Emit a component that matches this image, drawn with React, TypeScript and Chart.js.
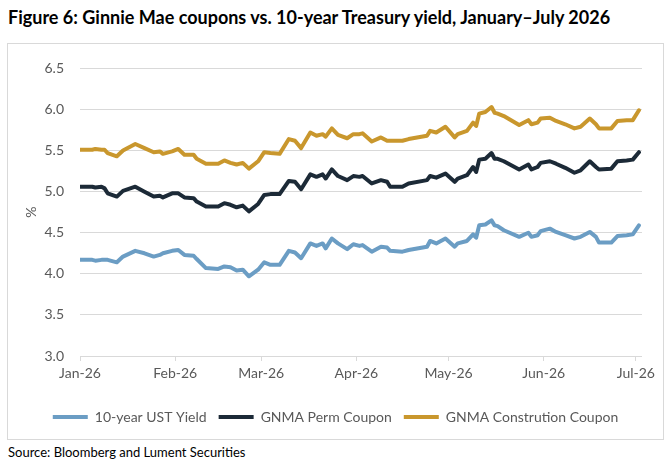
import React, { useEffect, useRef } from 'react';
import { Chart, registerables } from 'chart.js';

Chart.register(...registerables);

// Day offsets from 1 Jan 2026
const DAYS = [0, 4, 5, 7, 8, 9, 12, 14, 18, 21, 24, 26, 27, 30, 32, 34, 37, 38, 41, 45, 47, 49, 51, 53, 55, 58, 60, 62, 65, 68, 70, 72, 75, 77, 79, 80, 82, 84, 87, 89, 91, 92, 95, 98, 100, 101, 105, 107, 113, 114, 116, 119, 122, 123, 126, 128, 129, 130, 132, 134, 135, 136, 138, 143, 146, 147, 149, 150, 153, 155, 158, 161, 163, 166, 168, 169, 173, 175, 178, 180, 182];

const UST_YIELD = [4.17, 4.17, 4.16, 4.17, 4.17, 4.17, 4.14, 4.21, 4.28, 4.25, 4.21, 4.23, 4.25, 4.28, 4.29, 4.23, 4.22, 4.18, 4.07, 4.06, 4.09, 4.08, 4.04, 4.05, 3.97, 4.05, 4.14, 4.11, 4.11, 4.28, 4.26, 4.19, 4.37, 4.34, 4.37, 4.31, 4.43, 4.37, 4.30, 4.36, 4.34, 4.35, 4.27, 4.33, 4.32, 4.28, 4.27, 4.29, 4.33, 4.40, 4.37, 4.43, 4.33, 4.37, 4.40, 4.48, 4.44, 4.59, 4.60, 4.65, 4.59, 4.58, 4.53, 4.45, 4.50, 4.45, 4.47, 4.52, 4.55, 4.51, 4.47, 4.43, 4.45, 4.51, 4.45, 4.38, 4.38, 4.46, 4.47, 4.48, 4.59];

const PERM_COUPON = [5.06, 5.06, 5.05, 5.06, 5.04, 4.98, 4.94, 5.01, 5.06, 5.00, 4.94, 4.95, 4.93, 4.98, 4.98, 4.93, 4.92, 4.88, 4.82, 4.82, 4.86, 4.84, 4.81, 4.83, 4.76, 4.85, 4.96, 4.97, 4.97, 5.13, 5.12, 5.03, 5.21, 5.18, 5.21, 5.16, 5.27, 5.19, 5.14, 5.19, 5.18, 5.19, 5.10, 5.14, 5.12, 5.06, 5.06, 5.10, 5.14, 5.19, 5.17, 5.22, 5.12, 5.16, 5.20, 5.30, 5.24, 5.39, 5.40, 5.47, 5.40, 5.40, 5.37, 5.27, 5.33, 5.27, 5.30, 5.35, 5.37, 5.34, 5.29, 5.23, 5.26, 5.37, 5.30, 5.27, 5.28, 5.37, 5.38, 5.39, 5.48];

const CONSTRUCTION_COUPON = [5.51, 5.51, 5.52, 5.51, 5.51, 5.47, 5.43, 5.50, 5.58, 5.53, 5.48, 5.49, 5.46, 5.49, 5.52, 5.45, 5.45, 5.40, 5.34, 5.34, 5.38, 5.35, 5.33, 5.35, 5.28, 5.37, 5.48, 5.47, 5.46, 5.64, 5.62, 5.53, 5.72, 5.68, 5.70, 5.67, 5.77, 5.69, 5.65, 5.70, 5.70, 5.71, 5.61, 5.66, 5.62, 5.62, 5.62, 5.64, 5.68, 5.74, 5.72, 5.79, 5.66, 5.70, 5.74, 5.84, 5.80, 5.95, 5.97, 6.03, 5.96, 5.95, 5.92, 5.81, 5.87, 5.82, 5.84, 5.89, 5.90, 5.86, 5.82, 5.77, 5.79, 5.89, 5.82, 5.77, 5.77, 5.86, 5.87, 5.87, 5.99];

const MONTH_DAYS = [0, 31, 59, 90, 120, 151, 181];
const MONTH_LABELS = ['Jan-26', 'Feb-26', 'Mar-26', 'Apr-26', 'May-26', 'Jun-26', 'Jul-26'];
const Y_TICKS = [3.0, 3.5, 4.0, 4.5, 5.0, 5.5, 6.0, 6.5];

const SERIES_LABELS = ['10-year UST Yield', 'GNMA Perm Coupon', 'GNMA Constrution Coupon'];
const COLORS = ['#6b9dc4', '#1c2a37', '#c9972d'];

const TEXT = '#595959';
const GRID = '#d9d9d9';
const FONT = 'Lato, "Open Sans", sans-serif';

export default function App() {
  const ref = useRef<HTMLCanvasElement>(null);

  useEffect(() => {
    const seriesValues = [UST_YIELD, PERM_COUPON, CONSTRUCTION_COUPON];
    const chart = new Chart(ref.current as HTMLCanvasElement, {
      type: 'line',
      data: {
        datasets: seriesValues.map((vals, i) => ({
          label: SERIES_LABELS[i],
          data: DAYS.map((d, j) => ({ x: d, y: vals[j] })),
          borderColor: COLORS[i],
          backgroundColor: COLORS[i],
          borderWidth: 4,
          pointRadius: 0,
          tension: 0,
          borderCapStyle: 'round',
          borderJoinStyle: 'round',
        })),
      },
      options: {
        animation: false,
        responsive: false,
        layout: { padding: { top: 19, right: 21, bottom: 5, left: 21 } },
        plugins: {
          tooltip: { enabled: false },
          legend: {
            position: 'bottom',
            labels: {
              boxWidth: 35,
              boxHeight: 4,
              padding: 12,
              color: TEXT,
              font: { family: FONT, size: 14 },
              generateLabels: (c: any) =>
                c.data.datasets.map((ds: any, i: number) => ({
                  text: ds.label,
                  fillStyle: ds.borderColor,
                  strokeStyle: ds.borderColor,
                  lineWidth: 0,
                  hidden: false,
                  datasetIndex: i,
                  fontColor: TEXT,
                })),
            },
          },
        },
        scales: {
          x: {
            type: 'linear',
            min: 0,
            max: 183,
            afterBuildTicks: (s: any) => {
              s.ticks = MONTH_DAYS.map((v) => ({ value: v }));
            },
            afterFit: (s: any) => {
              s.height = 42;
            },
            grid: { drawOnChartArea: false, drawTicks: true, tickLength: 5, color: GRID },
            border: { display: false },
            ticks: {
              autoSkip: false,
              maxRotation: 0,
              padding: 4,
              color: TEXT,
              font: { family: FONT, size: 14 },
              callback: (v: any) => {
                const k = MONTH_DAYS.indexOf(Number(v));
                return k >= 0 ? MONTH_LABELS[k] : '';
              },
            },
          },
          y: {
            min: 3,
            max: 6.5,
            afterBuildTicks: (s: any) => {
              s.ticks = Y_TICKS.map((v) => ({ value: v }));
            },
            afterFit: (s: any) => {
              s.width = 51;
            },
            grid: { color: GRID, drawTicks: false },
            border: { display: false },
            ticks: {
              padding: 16,
              color: TEXT,
              font: { family: FONT, size: 14 },
              callback: (v: any) => Number(v).toFixed(1),
            },
            title: {
              display: true,
              text: '%',
              color: TEXT,
              font: { family: FONT, size: 14 },
              padding: { top: -6, bottom: 0 },
            },
          },
        },
      },
    });
    return () => chart.destroy();
  }, []);

  return (
    <div style={{ position: 'absolute', left: 0, top: 0, width: 672, height: 472, background: '#fff', fontFamily: FONT }}>
      <div style={{ position: 'absolute', left: 8, top: 6, fontSize: 18, fontWeight: 700, color: '#000', whiteSpace: 'nowrap', lineHeight: '22px' }}>
        Figure 6: Ginnie Mae coupons vs. 10-year Treasury yield, January–July 2026
      </div>
      <div style={{ position: 'absolute', left: 7, top: 43, width: 655, height: 395, border: `1px solid ${GRID}` }}>
        <canvas ref={ref} width={655} height={395} style={{ display: 'block', width: 655, height: 395 }} />
      </div>
      <div style={{ position: 'absolute', left: 8, top: 444, fontSize: 13, color: '#000', whiteSpace: 'nowrap', lineHeight: '17px' }}>
        Source: Bloomberg and Lument Securities
      </div>
    </div>
  );
}
